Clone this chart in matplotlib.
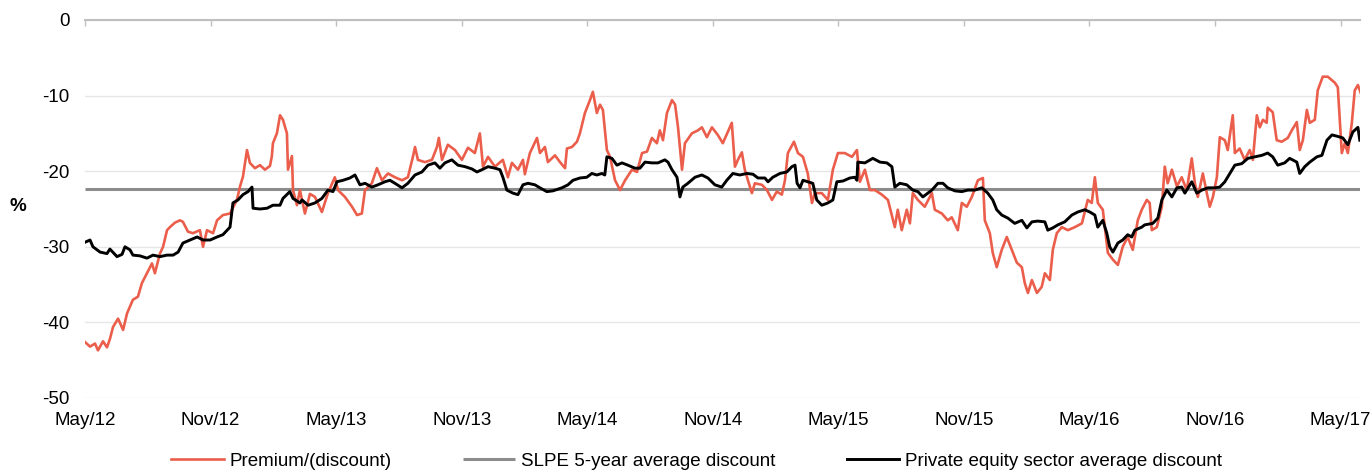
import matplotlib
matplotlib.use("Agg")
import matplotlib.pyplot as plt

# x = months since May 2012
premium_months = [0.00, 0.24, 0.48, 0.62, 0.86, 1.05, 1.19, 1.34, 1.58, 1.82, 2.01, 2.29, 2.53, 2.72, 2.96,
    3.20, 3.34, 3.58, 3.73, 3.92, 4.06, 4.30, 4.54, 4.68, 4.92, 5.16, 5.49, 5.64, 5.83, 6.12, 6.31, 6.59,
    6.93, 7.26, 7.41, 7.55, 7.74, 7.88, 8.12, 8.36, 8.60, 8.84, 8.93, 8.98, 9.17, 9.32, 9.46, 9.65, 9.70,
    9.89, 9.94, 10.13, 10.27, 10.51, 10.75, 10.99, 11.32, 11.61, 11.94, 12.09, 12.42, 12.76, 13.00, 13.23,
    13.38, 13.71, 13.95, 14.19, 14.48, 14.81, 15.15, 15.43, 15.67, 15.77, 15.91, 16.24, 16.58, 16.82, 16.91,
    17.06, 17.34, 17.68, 18.01, 18.30, 18.63, 18.87, 19.02, 19.26, 19.59, 19.97, 20.21, 20.40, 20.69, 20.93,
    21.02, 21.26, 21.60, 21.74, 21.98, 22.12, 22.46, 22.70, 22.94, 23.03, 23.27, 23.51, 23.65, 23.89, 24.13,
    24.27, 24.46, 24.61, 24.75, 24.94, 25.09, 25.33, 25.57, 25.81, 26.14, 26.38, 26.62, 26.86, 27.09, 27.33,
    27.47, 27.62, 27.81, 28.05, 28.20, 28.34, 28.53, 28.67, 29.00, 29.29, 29.48, 29.72, 29.96, 30.24, 30.48,
    30.72, 30.91, 31.06, 31.20, 31.39, 31.53, 31.68, 31.87, 32.01, 32.35, 32.59, 32.83, 33.06, 33.30, 33.45,
    33.59, 33.88, 34.07, 34.31, 34.54, 34.74, 34.88, 35.21, 35.50, 35.74, 35.98, 36.31, 36.65, 36.89, 37.03,
    37.27, 37.51, 37.75, 38.08, 38.37, 38.70, 38.84, 39.03, 39.27, 39.42, 39.56, 39.80, 40.13, 40.47, 40.61,
    40.95, 41.23, 41.42, 41.71, 41.90, 42.14, 42.38, 42.67, 42.91, 43.00, 43.24, 43.38, 43.57, 43.81, 44.05,
    44.29, 44.53, 44.77, 44.91, 45.06, 45.25, 45.49, 45.72, 45.87, 46.11, 46.25, 46.44, 46.68, 46.97, 47.30,
    47.64, 47.92, 48.11, 48.26, 48.40, 48.64, 48.88, 49.12, 49.36, 49.59, 49.83, 50.07, 50.31, 50.50, 50.74,
    50.88, 50.98, 51.22, 51.46, 51.60, 51.74, 51.94, 52.18, 52.41, 52.65, 52.89, 53.04, 53.18, 53.42, 53.61,
    53.75, 53.90, 54.09, 54.23, 54.47, 54.61, 54.85, 54.95, 55.18, 55.42, 55.66, 55.81, 56.00, 56.14, 56.29,
    56.47, 56.52, 56.76, 56.95, 57.19, 57.48, 57.67, 57.91, 58.05, 58.20, 58.39, 58.53, 58.77, 58.91, 59.15,
    59.39, 59.73, 59.87, 60.06, 60.20, 60.35, 60.54, 60.68, 60.83, 60.97]
premium_values = [-42.6, -43.2, -42.8, -43.7, -42.5, -43.3, -42.2, -40.6, -39.5, -41.0, -38.8, -37.0, -36.6,
    -34.8, -33.5, -32.2, -33.5, -30.9, -30.0, -27.8, -27.4, -26.8, -26.5, -26.7, -28.0, -28.2, -27.8, -30.0,
    -27.8, -28.2, -26.5, -25.8, -25.6, -23.8, -22.0, -20.7, -17.2, -18.9, -19.6, -19.2, -19.8, -19.3, -18.0,
    -16.3, -15.0, -12.6, -13.2, -15.0, -19.8, -18.0, -22.5, -24.5, -22.5, -25.6, -23.0, -23.4, -25.4, -22.9,
    -20.8, -22.5, -23.4, -24.7, -25.8, -25.6, -22.5, -21.6, -19.6, -21.2, -20.3, -20.8, -21.2, -20.8, -18.1,
    -16.8, -18.5, -18.8, -18.5, -16.8, -15.6, -18.5, -16.5, -17.2, -18.5, -16.9, -17.6, -15.0, -19.4, -18.1,
    -19.4, -18.5, -20.8, -18.9, -19.8, -18.5, -20.4, -17.6, -15.6, -17.6, -16.8, -18.8, -17.9, -18.8, -19.6,
    -17.0, -16.8, -16.1, -15.0, -12.3, -10.6, -9.5, -12.3, -11.2, -11.9, -17.2, -18.1, -21.2, -22.5, -21.2,
    -19.8, -20.1, -17.6, -17.4, -15.6, -16.3, -14.6, -15.9, -12.3, -10.6, -11.2, -14.2, -19.8, -16.3, -15.0,
    -14.6, -14.2, -15.5, -14.2, -15.2, -16.3, -14.8, -13.6, -19.4, -18.5, -17.5, -19.8, -21.2, -22.9, -21.6,
    -21.8, -22.5, -23.8, -22.7, -23.1, -21.2, -17.6, -16.1, -17.6, -18.1, -20.3, -24.2, -22.9, -22.9, -23.8,
    -19.8, -17.6, -17.6, -18.1, -17.2, -21.4, -19.8, -22.5, -22.5, -23.1, -23.8, -27.4, -25.1, -27.8, -25.1,
    -26.9, -22.9, -23.8, -24.7, -22.9, -25.1, -25.6, -26.5, -26.1, -27.8, -24.2, -24.7, -23.4, -21.2, -20.9,
    -26.5, -28.2, -30.8, -32.7, -30.4, -28.7, -30.4, -32.1, -32.7, -34.8, -36.1, -34.4, -36.1, -35.3, -33.5,
    -34.4, -30.4, -28.2, -27.4, -27.8, -27.4, -26.9, -23.8, -24.2, -20.8, -24.2, -25.1, -30.8, -31.7, -32.4,
    -30.0, -28.7, -30.4, -26.5, -25.1, -23.8, -24.2, -27.8, -27.4, -24.7, -19.4, -21.6, -19.8, -22.0, -20.8,
    -22.5, -18.3, -21.6, -23.4, -20.3, -22.9, -24.7, -23.4, -20.8, -15.5, -15.9, -17.2, -12.6, -17.6, -17.0,
    -18.5, -17.2, -18.5, -12.6, -14.2, -13.2, -13.6, -11.6, -12.2, -15.9, -16.1, -15.6, -14.6, -13.5, -17.2,
    -15.9, -11.9, -13.6, -13.2, -9.3, -7.5, -7.5, -8.3, -8.9, -17.6, -16.3, -17.6, -13.6, -9.3, -8.6, -9.7]

sector_months = [0.00, 0.24, 0.38, 0.72, 1.05, 1.19, 1.53, 1.77, 1.91, 2.15, 2.29, 2.63, 2.96, 3.25, 3.58,
    3.92, 4.21, 4.45, 4.68, 5.02, 5.36, 5.64, 5.98, 6.31, 6.59, 6.93, 7.07, 7.31, 7.55, 7.79, 7.98, 8.03,
    8.36, 8.70, 8.98, 9.32, 9.46, 9.79, 9.94, 10.27, 10.37, 10.66, 10.99, 11.32, 11.61, 11.85, 12.04, 12.33,
    12.66, 12.90, 13.14, 13.38, 13.71, 14.00, 14.33, 14.57, 14.81, 15.15, 15.43, 15.77, 16.10, 16.39, 16.72,
    16.96, 17.20, 17.53, 17.82, 18.16, 18.49, 18.73, 18.97, 19.26, 19.59, 19.83, 19.97, 20.16, 20.45, 20.69,
    20.93, 21.17, 21.50, 21.74, 22.07, 22.36, 22.79, 23.08, 23.32, 23.65, 23.98, 24.22, 24.46, 24.70, 24.84,
    24.94, 25.18, 25.42, 25.66, 25.94, 26.28, 26.52, 26.76, 27.09, 27.38, 27.71, 27.86, 28.05, 28.29, 28.43,
    28.57, 28.81, 29.15, 29.48, 29.77, 30.10, 30.43, 30.67, 30.96, 31.29, 31.63, 31.92, 32.16, 32.49, 32.64,
    32.87, 33.21, 33.54, 33.78, 33.93, 34.03, 34.17, 34.31, 34.54, 34.78, 34.97, 35.21, 35.50, 35.74, 35.93,
    36.22, 36.55, 36.79, 36.89, 36.93, 37.27, 37.65, 37.99, 38.32, 38.56, 38.70, 38.94, 39.27, 39.56, 39.80,
    40.04, 40.28, 40.47, 40.76, 41.00, 41.23, 41.57, 41.90, 42.19, 42.52, 42.86, 43.14, 43.38, 43.57, 43.81,
    44.10, 44.43, 44.77, 45.01, 45.25, 45.53, 45.87, 46.01, 46.25, 46.49, 46.82, 47.16, 47.44, 47.78, 48.02,
    48.26, 48.40, 48.64, 48.83, 48.97, 49.12, 49.36, 49.59, 49.83, 50.02, 50.17, 50.50, 50.64, 51.03, 51.27,
    51.46, 51.70, 51.94, 52.18, 52.41, 52.56, 52.89, 53.13, 53.37, 53.66, 53.99, 54.23, 54.47, 54.71, 54.95,
    55.28, 55.57, 55.90, 56.24, 56.52, 56.76, 57.00, 57.33, 57.57, 57.91, 58.05, 58.29, 58.53, 58.87, 59.11,
    59.35, 59.59, 59.87, 60.11, 60.35, 60.59, 60.83, 60.92]
sector_values = [-29.4, -29.1, -30.0, -30.7, -30.9, -30.3, -31.3, -31.0, -30.0, -30.4, -31.1, -31.2, -31.5,
    -31.1, -31.3, -31.1, -31.1, -30.7, -29.5, -29.1, -28.7, -29.1, -29.1, -28.7, -28.4, -27.4, -24.2, -23.8,
    -23.1, -22.7, -22.1, -24.9, -25.0, -24.9, -24.5, -24.5, -23.6, -22.7, -23.6, -24.2, -23.8, -24.5, -24.2,
    -23.6, -22.5, -22.7, -21.4, -21.2, -20.9, -20.5, -21.8, -21.6, -22.1, -21.8, -21.4, -21.2, -21.6, -22.2,
    -21.6, -20.5, -20.1, -19.2, -18.9, -19.6, -18.9, -18.5, -19.2, -19.4, -19.7, -20.1, -19.8, -19.4, -19.6,
    -19.8, -20.8, -22.5, -22.9, -23.1, -21.8, -21.6, -21.8, -22.2, -22.7, -22.6, -22.2, -21.8, -21.2, -20.9,
    -20.8, -20.3, -20.5, -20.3, -20.5, -18.1, -18.3, -19.2, -18.9, -19.2, -19.6, -19.6, -18.8, -18.9, -18.9,
    -18.5, -18.8, -19.8, -20.8, -23.4, -22.1, -21.6, -20.8, -20.5, -20.9, -21.8, -22.1, -21.2, -20.3, -20.5,
    -20.3, -20.4, -20.9, -20.9, -21.4, -20.8, -20.3, -20.1, -19.4, -19.2, -21.6, -22.2, -21.2, -21.4, -21.6,
    -23.8, -24.5, -24.2, -23.8, -21.4, -21.3, -20.9, -20.8, -21.2, -18.8, -18.9, -18.3, -18.8, -18.9, -19.4,
    -22.1, -21.6, -21.8, -22.5, -22.7, -23.4, -22.9, -22.5, -21.6, -21.6, -22.2, -22.6, -22.7, -22.5, -22.5,
    -22.2, -22.9, -23.8, -25.1, -25.8, -26.2, -26.9, -26.5, -27.5, -26.7, -26.6, -26.7, -27.8, -27.5, -27.1,
    -26.7, -25.8, -25.4, -25.1, -25.4, -25.8, -27.4, -26.5, -28.2, -30.0, -30.7, -29.5, -29.1, -28.4, -28.7,
    -27.8, -27.4, -27.1, -26.9, -26.2, -23.8, -22.5, -23.4, -22.2, -22.1, -22.9, -21.4, -22.9, -22.5, -22.2,
    -22.2, -22.1, -21.4, -20.3, -19.2, -19.0, -18.3, -18.1, -17.9, -17.6, -18.1, -19.2, -18.9, -18.3, -18.8,
    -20.3, -19.4, -18.8, -18.1, -17.9, -15.9, -15.2, -15.4, -15.6, -16.5, -14.8, -14.2, -15.9]

average_discount = -22.3

tick_months = [0, 6, 12, 18, 24, 30, 36, 42, 48, 54, 60]
tick_labels = ["May/12", "Nov/12", "May/13", "Nov/13", "May/14", "Nov/14",
               "May/15", "Nov/15", "May/16", "Nov/16", "May/17"]
y_ticks = [0, -10, -20, -30, -40, -50]

series_labels = ["Premium/(discount)", "SLPE 5-year average discount",
                 "Private equity sector average discount"]

plt.rcParams['font.family'] = ['Liberation Sans', 'DejaVu Sans']
FS = 13.5

fig = plt.figure(figsize=(13.71, 4.70), dpi=100)
ax = fig.add_axes([85/1371, 1 - 398/470, (1360-85)/1371, (398-20)/470])

x_end = 60.93
l_avg = ax.plot([0, x_end], [average_discount, average_discount], color='#8C8C8C', lw=2.2,
                solid_capstyle='butt', zorder=2)[0]
l_prem = ax.plot(premium_months, premium_values, color='#EB5E4B', lw=1.9, zorder=3)[0]
l_sec = ax.plot(sector_months, sector_values, color='#000000', lw=2.1, zorder=4)[0]

ax.set_xlim(0, x_end)
ax.set_ylim(-50, 0)
ax.set_yticks(y_ticks)
ax.set_yticklabels([str(v) for v in y_ticks], fontsize=FS)
ax.set_xticks(tick_months)
ax.set_xticklabels(tick_labels, fontsize=FS)

for s in ['left', 'right', 'bottom']:
    ax.spines[s].set_visible(False)
ax.spines['top'].set_color('#BFBFBF')
ax.spines['top'].set_linewidth(1.5)

ax.tick_params(axis='y', length=0, pad=11)
ax.tick_params(axis='x', bottom=False, top=True, labelbottom=True, labeltop=False,
               direction='in', length=4, width=1, color='#BFBFBF', pad=10)

ax.yaxis.grid(True, color='#E6E6E6', lw=1)
ax.set_axisbelow(True)

fig.text(18/1371, 1 - 206/470, "%", fontsize=FS, fontweight='bold', ha='center', va='center')

fig.legend([l_prem, l_avg, l_sec], series_labels, loc='center', bbox_to_anchor=(0.508, 9/470),
           ncol=3, frameon=False, fontsize=FS, handlelength=2.8, handletextpad=0.3,
           columnspacing=3.8, borderpad=0, borderaxespad=0)

fig.savefig("out.png", dpi=100)
